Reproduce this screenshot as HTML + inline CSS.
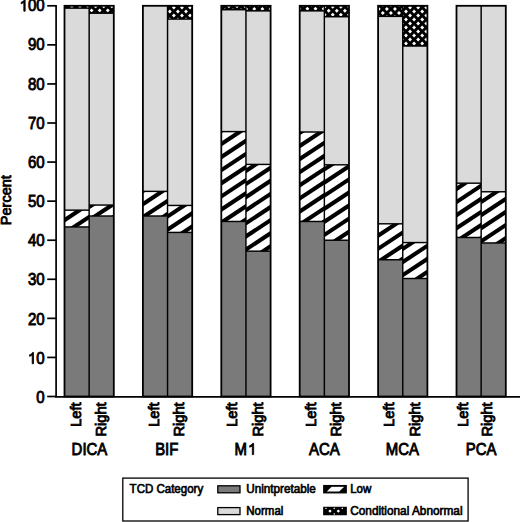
<!DOCTYPE html>
<html><head><meta charset="utf-8"><style>
html,body{margin:0;padding:0;background:#fff;width:520px;height:522px;overflow:hidden;}
svg{display:block;font-family:"Liberation Sans", sans-serif;}
text{font-family:"Liberation Sans", sans-serif;}
</style></head><body>
<svg width="520" height="522" viewBox="0 0 520 522">
<defs><clipPath id="c1"><rect x="64.50" y="210.14" width="24.65" height="16.80"/></clipPath><clipPath id="c2"><rect x="64.50" y="5.80" width="24.65" height="2.34"/></clipPath><clipPath id="c3"><rect x="89.15" y="205.06" width="24.65" height="10.94"/></clipPath><clipPath id="c4"><rect x="89.15" y="5.80" width="24.65" height="7.42"/></clipPath><clipPath id="c5"><rect x="142.90" y="191.38" width="24.65" height="24.61"/></clipPath><clipPath id="c6"><rect x="167.55" y="205.45" width="24.65" height="26.96"/></clipPath><clipPath id="c7"><rect x="167.55" y="5.80" width="24.65" height="13.28"/></clipPath><clipPath id="c8"><rect x="221.30" y="131.61" width="24.65" height="89.86"/></clipPath><clipPath id="c9"><rect x="221.30" y="5.80" width="24.65" height="3.91"/></clipPath><clipPath id="c10"><rect x="245.95" y="164.42" width="24.65" height="86.74"/></clipPath><clipPath id="c11"><rect x="245.95" y="5.80" width="24.65" height="5.08"/></clipPath><clipPath id="c12"><rect x="299.70" y="132.00" width="24.65" height="89.47"/></clipPath><clipPath id="c13"><rect x="299.70" y="5.80" width="24.65" height="5.08"/></clipPath><clipPath id="c14"><rect x="324.35" y="164.81" width="24.65" height="75.41"/></clipPath><clipPath id="c15"><rect x="324.35" y="5.80" width="24.65" height="10.94"/></clipPath><clipPath id="c16"><rect x="378.10" y="223.81" width="24.65" height="35.94"/></clipPath><clipPath id="c17"><rect x="378.10" y="5.80" width="24.65" height="10.55"/></clipPath><clipPath id="c18"><rect x="402.75" y="242.56" width="24.65" height="35.94"/></clipPath><clipPath id="c19"><rect x="402.75" y="5.80" width="24.65" height="40.24"/></clipPath><clipPath id="c20"><rect x="456.50" y="183.18" width="24.65" height="54.31"/></clipPath><clipPath id="c21"><rect x="481.15" y="191.77" width="24.65" height="51.18"/></clipPath></defs>
<rect width="520" height="522" fill="#fff"/>
<rect x="64.50" y="226.94" width="24.65" height="169.56" fill="#7a7a7a"/><g clip-path="url(#c1)"><rect x="64.50" y="210.14" width="24.65" height="16.80" fill="#fff"/><line x1="62.50" y1="208.32" x2="91.15" y2="189.41" stroke="#000" stroke-width="4.09"/><line x1="62.50" y1="221.42" x2="91.15" y2="202.51" stroke="#000" stroke-width="4.09"/><line x1="62.50" y1="234.52" x2="91.15" y2="215.61" stroke="#000" stroke-width="4.09"/><line x1="62.50" y1="247.62" x2="91.15" y2="228.71" stroke="#000" stroke-width="4.09"/></g><rect x="64.50" y="8.14" width="24.65" height="201.99" fill="#dadada"/><g clip-path="url(#c2)"><rect x="64.50" y="5.80" width="24.65" height="2.34" fill="#000"/><path d="M61.75 6.70L63.70 4.75L65.65 6.70L63.70 8.65Z" fill="#fff"/><path d="M69.85 6.70L71.80 4.75L73.75 6.70L71.80 8.65Z" fill="#fff"/><path d="M77.95 6.70L79.90 4.75L81.85 6.70L79.90 8.65Z" fill="#fff"/><path d="M86.05 6.70L88.00 4.75L89.95 6.70L88.00 8.65Z" fill="#fff"/><path d="M65.80 10.70L67.75 8.75L69.70 10.70L67.75 12.65Z" fill="#fff"/><path d="M73.90 10.70L75.85 8.75L77.80 10.70L75.85 12.65Z" fill="#fff"/><path d="M82.00 10.70L83.95 8.75L85.90 10.70L83.95 12.65Z" fill="#fff"/><path d="M90.10 10.70L92.05 8.75L94.00 10.70L92.05 12.65Z" fill="#fff"/></g><line x1="64.50" y1="226.94" x2="89.15" y2="226.94" stroke="#000" stroke-width="1.45"/><line x1="64.50" y1="210.14" x2="89.15" y2="210.14" stroke="#000" stroke-width="1.45"/><line x1="64.50" y1="8.14" x2="89.15" y2="8.14" stroke="#000" stroke-width="1.45"/><rect x="89.15" y="216.00" width="24.65" height="180.50" fill="#7a7a7a"/><g clip-path="url(#c3)"><rect x="89.15" y="205.06" width="24.65" height="10.94" fill="#fff"/><line x1="87.15" y1="208.32" x2="115.80" y2="189.41" stroke="#000" stroke-width="4.09"/><line x1="87.15" y1="221.42" x2="115.80" y2="202.51" stroke="#000" stroke-width="4.09"/><line x1="87.15" y1="234.52" x2="115.80" y2="215.61" stroke="#000" stroke-width="4.09"/></g><rect x="89.15" y="13.22" width="24.65" height="191.83" fill="#dadada"/><g clip-path="url(#c4)"><rect x="89.15" y="5.80" width="24.65" height="7.42" fill="#000"/><path d="M85.60 6.40L87.55 4.45L89.50 6.40L87.55 8.35Z" fill="#fff"/><path d="M93.70 6.40L95.65 4.45L97.60 6.40L95.65 8.35Z" fill="#fff"/><path d="M101.80 6.40L103.75 4.45L105.70 6.40L103.75 8.35Z" fill="#fff"/><path d="M109.90 6.40L111.85 4.45L113.80 6.40L111.85 8.35Z" fill="#fff"/><path d="M89.65 10.40L91.60 8.45L93.55 10.40L91.60 12.35Z" fill="#fff"/><path d="M97.75 10.40L99.70 8.45L101.65 10.40L99.70 12.35Z" fill="#fff"/><path d="M105.85 10.40L107.80 8.45L109.75 10.40L107.80 12.35Z" fill="#fff"/><path d="M113.95 10.40L115.90 8.45L117.85 10.40L115.90 12.35Z" fill="#fff"/><path d="M85.60 14.40L87.55 12.45L89.50 14.40L87.55 16.35Z" fill="#fff"/><path d="M93.70 14.40L95.65 12.45L97.60 14.40L95.65 16.35Z" fill="#fff"/><path d="M101.80 14.40L103.75 12.45L105.70 14.40L103.75 16.35Z" fill="#fff"/><path d="M109.90 14.40L111.85 12.45L113.80 14.40L111.85 16.35Z" fill="#fff"/></g><line x1="89.15" y1="216.00" x2="113.80" y2="216.00" stroke="#000" stroke-width="1.45"/><line x1="89.15" y1="205.06" x2="113.80" y2="205.06" stroke="#000" stroke-width="1.45"/><line x1="89.15" y1="13.22" x2="113.80" y2="13.22" stroke="#000" stroke-width="1.45"/><line x1="89.15" y1="5.80" x2="89.15" y2="396.50" stroke="#000" stroke-width="1.45"/><rect x="64.50" y="5.80" width="49.30" height="390.70" fill="none" stroke="#000" stroke-width="1.8"/><rect x="142.90" y="216.00" width="24.65" height="180.50" fill="#7a7a7a"/><g clip-path="url(#c5)"><rect x="142.90" y="191.38" width="24.65" height="24.61" fill="#fff"/><line x1="140.90" y1="192.32" x2="169.55" y2="173.41" stroke="#000" stroke-width="4.09"/><line x1="140.90" y1="205.42" x2="169.55" y2="186.51" stroke="#000" stroke-width="4.09"/><line x1="140.90" y1="218.52" x2="169.55" y2="199.61" stroke="#000" stroke-width="4.09"/><line x1="140.90" y1="231.62" x2="169.55" y2="212.71" stroke="#000" stroke-width="4.09"/></g><rect x="142.90" y="5.80" width="24.65" height="185.58" fill="#dadada"/><line x1="142.90" y1="216.00" x2="167.55" y2="216.00" stroke="#000" stroke-width="1.45"/><line x1="142.90" y1="191.38" x2="167.55" y2="191.38" stroke="#000" stroke-width="1.45"/><rect x="167.55" y="232.41" width="24.65" height="164.09" fill="#7a7a7a"/><g clip-path="url(#c6)"><rect x="167.55" y="205.45" width="24.65" height="26.96" fill="#fff"/><line x1="165.55" y1="204.72" x2="194.20" y2="185.81" stroke="#000" stroke-width="4.09"/><line x1="165.55" y1="217.82" x2="194.20" y2="198.91" stroke="#000" stroke-width="4.09"/><line x1="165.55" y1="230.92" x2="194.20" y2="212.01" stroke="#000" stroke-width="4.09"/><line x1="165.55" y1="244.02" x2="194.20" y2="225.11" stroke="#000" stroke-width="4.09"/></g><rect x="167.55" y="19.08" width="24.65" height="186.36" fill="#dadada"/><g clip-path="url(#c7)"><rect x="167.55" y="5.80" width="24.65" height="13.28" fill="#000"/><path d="M167.85 3.50L169.80 1.55L171.75 3.50L169.80 5.45Z" fill="#fff"/><path d="M175.95 3.50L177.90 1.55L179.85 3.50L177.90 5.45Z" fill="#fff"/><path d="M184.05 3.50L186.00 1.55L187.95 3.50L186.00 5.45Z" fill="#fff"/><path d="M192.15 3.50L194.10 1.55L196.05 3.50L194.10 5.45Z" fill="#fff"/><path d="M163.80 7.50L165.75 5.55L167.70 7.50L165.75 9.45Z" fill="#fff"/><path d="M171.90 7.50L173.85 5.55L175.80 7.50L173.85 9.45Z" fill="#fff"/><path d="M180.00 7.50L181.95 5.55L183.90 7.50L181.95 9.45Z" fill="#fff"/><path d="M188.10 7.50L190.05 5.55L192.00 7.50L190.05 9.45Z" fill="#fff"/><path d="M167.85 11.50L169.80 9.55L171.75 11.50L169.80 13.45Z" fill="#fff"/><path d="M175.95 11.50L177.90 9.55L179.85 11.50L177.90 13.45Z" fill="#fff"/><path d="M184.05 11.50L186.00 9.55L187.95 11.50L186.00 13.45Z" fill="#fff"/><path d="M192.15 11.50L194.10 9.55L196.05 11.50L194.10 13.45Z" fill="#fff"/><path d="M163.80 15.50L165.75 13.55L167.70 15.50L165.75 17.45Z" fill="#fff"/><path d="M171.90 15.50L173.85 13.55L175.80 15.50L173.85 17.45Z" fill="#fff"/><path d="M180.00 15.50L181.95 13.55L183.90 15.50L181.95 17.45Z" fill="#fff"/><path d="M188.10 15.50L190.05 13.55L192.00 15.50L190.05 17.45Z" fill="#fff"/><path d="M167.85 19.50L169.80 17.55L171.75 19.50L169.80 21.45Z" fill="#fff"/><path d="M175.95 19.50L177.90 17.55L179.85 19.50L177.90 21.45Z" fill="#fff"/><path d="M184.05 19.50L186.00 17.55L187.95 19.50L186.00 21.45Z" fill="#fff"/><path d="M192.15 19.50L194.10 17.55L196.05 19.50L194.10 21.45Z" fill="#fff"/></g><line x1="167.55" y1="232.41" x2="192.20" y2="232.41" stroke="#000" stroke-width="1.45"/><line x1="167.55" y1="205.45" x2="192.20" y2="205.45" stroke="#000" stroke-width="1.45"/><line x1="167.55" y1="19.08" x2="192.20" y2="19.08" stroke="#000" stroke-width="1.45"/><line x1="167.55" y1="5.80" x2="167.55" y2="396.50" stroke="#000" stroke-width="1.45"/><rect x="142.90" y="5.80" width="49.30" height="390.70" fill="none" stroke="#000" stroke-width="1.8"/><rect x="221.30" y="221.47" width="24.65" height="175.03" fill="#7a7a7a"/><g clip-path="url(#c8)"><rect x="221.30" y="131.61" width="24.65" height="89.86" fill="#fff"/><line x1="219.30" y1="132.22" x2="247.95" y2="113.31" stroke="#000" stroke-width="4.09"/><line x1="219.30" y1="145.32" x2="247.95" y2="126.41" stroke="#000" stroke-width="4.09"/><line x1="219.30" y1="158.42" x2="247.95" y2="139.51" stroke="#000" stroke-width="4.09"/><line x1="219.30" y1="171.52" x2="247.95" y2="152.61" stroke="#000" stroke-width="4.09"/><line x1="219.30" y1="184.62" x2="247.95" y2="165.71" stroke="#000" stroke-width="4.09"/><line x1="219.30" y1="197.72" x2="247.95" y2="178.81" stroke="#000" stroke-width="4.09"/><line x1="219.30" y1="210.82" x2="247.95" y2="191.91" stroke="#000" stroke-width="4.09"/><line x1="219.30" y1="223.92" x2="247.95" y2="205.01" stroke="#000" stroke-width="4.09"/><line x1="219.30" y1="237.02" x2="247.95" y2="218.11" stroke="#000" stroke-width="4.09"/></g><rect x="221.30" y="9.71" width="24.65" height="121.90" fill="#dadada"/><g clip-path="url(#c9)"><rect x="221.30" y="5.80" width="24.65" height="3.91" fill="#000"/><path d="M218.85 6.30L220.80 4.35L222.75 6.30L220.80 8.25Z" fill="#fff"/><path d="M226.95 6.30L228.90 4.35L230.85 6.30L228.90 8.25Z" fill="#fff"/><path d="M235.05 6.30L237.00 4.35L238.95 6.30L237.00 8.25Z" fill="#fff"/><path d="M243.15 6.30L245.10 4.35L247.05 6.30L245.10 8.25Z" fill="#fff"/><path d="M222.90 10.30L224.85 8.35L226.80 10.30L224.85 12.25Z" fill="#fff"/><path d="M231.00 10.30L232.95 8.35L234.90 10.30L232.95 12.25Z" fill="#fff"/><path d="M239.10 10.30L241.05 8.35L243.00 10.30L241.05 12.25Z" fill="#fff"/></g><line x1="221.30" y1="221.47" x2="245.95" y2="221.47" stroke="#000" stroke-width="1.45"/><line x1="221.30" y1="131.61" x2="245.95" y2="131.61" stroke="#000" stroke-width="1.45"/><line x1="221.30" y1="9.71" x2="245.95" y2="9.71" stroke="#000" stroke-width="1.45"/><rect x="245.95" y="251.16" width="24.65" height="145.34" fill="#7a7a7a"/><g clip-path="url(#c10)"><rect x="245.95" y="164.42" width="24.65" height="86.74" fill="#fff"/><line x1="243.95" y1="172.22" x2="272.60" y2="153.31" stroke="#000" stroke-width="4.09"/><line x1="243.95" y1="185.32" x2="272.60" y2="166.41" stroke="#000" stroke-width="4.09"/><line x1="243.95" y1="198.42" x2="272.60" y2="179.51" stroke="#000" stroke-width="4.09"/><line x1="243.95" y1="211.52" x2="272.60" y2="192.61" stroke="#000" stroke-width="4.09"/><line x1="243.95" y1="224.62" x2="272.60" y2="205.71" stroke="#000" stroke-width="4.09"/><line x1="243.95" y1="237.72" x2="272.60" y2="218.81" stroke="#000" stroke-width="4.09"/><line x1="243.95" y1="250.82" x2="272.60" y2="231.91" stroke="#000" stroke-width="4.09"/><line x1="243.95" y1="263.92" x2="272.60" y2="245.01" stroke="#000" stroke-width="4.09"/></g><rect x="245.95" y="10.88" width="24.65" height="153.55" fill="#dadada"/><g clip-path="url(#c11)"><rect x="245.95" y="5.80" width="24.65" height="5.08" fill="#000"/><path d="M248.30 4.90L250.25 2.95L252.20 4.90L250.25 6.85Z" fill="#fff"/><path d="M256.40 4.90L258.35 2.95L260.30 4.90L258.35 6.85Z" fill="#fff"/><path d="M264.50 4.90L266.45 2.95L268.40 4.90L266.45 6.85Z" fill="#fff"/><path d="M244.25 8.90L246.20 6.95L248.15 8.90L246.20 10.85Z" fill="#fff"/><path d="M252.35 8.90L254.30 6.95L256.25 8.90L254.30 10.85Z" fill="#fff"/><path d="M260.45 8.90L262.40 6.95L264.35 8.90L262.40 10.85Z" fill="#fff"/><path d="M268.55 8.90L270.50 6.95L272.45 8.90L270.50 10.85Z" fill="#fff"/><path d="M248.30 12.90L250.25 10.95L252.20 12.90L250.25 14.85Z" fill="#fff"/><path d="M256.40 12.90L258.35 10.95L260.30 12.90L258.35 14.85Z" fill="#fff"/><path d="M264.50 12.90L266.45 10.95L268.40 12.90L266.45 14.85Z" fill="#fff"/></g><line x1="245.95" y1="251.16" x2="270.60" y2="251.16" stroke="#000" stroke-width="1.45"/><line x1="245.95" y1="164.42" x2="270.60" y2="164.42" stroke="#000" stroke-width="1.45"/><line x1="245.95" y1="10.88" x2="270.60" y2="10.88" stroke="#000" stroke-width="1.45"/><line x1="245.95" y1="5.80" x2="245.95" y2="396.50" stroke="#000" stroke-width="1.45"/><rect x="221.30" y="5.80" width="49.30" height="390.70" fill="none" stroke="#000" stroke-width="1.8"/><rect x="299.70" y="221.47" width="24.65" height="175.03" fill="#7a7a7a"/><g clip-path="url(#c12)"><rect x="299.70" y="132.00" width="24.65" height="89.47" fill="#fff"/><line x1="297.70" y1="134.22" x2="326.35" y2="115.31" stroke="#000" stroke-width="4.09"/><line x1="297.70" y1="147.32" x2="326.35" y2="128.41" stroke="#000" stroke-width="4.09"/><line x1="297.70" y1="160.42" x2="326.35" y2="141.51" stroke="#000" stroke-width="4.09"/><line x1="297.70" y1="173.52" x2="326.35" y2="154.61" stroke="#000" stroke-width="4.09"/><line x1="297.70" y1="186.62" x2="326.35" y2="167.71" stroke="#000" stroke-width="4.09"/><line x1="297.70" y1="199.72" x2="326.35" y2="180.81" stroke="#000" stroke-width="4.09"/><line x1="297.70" y1="212.82" x2="326.35" y2="193.91" stroke="#000" stroke-width="4.09"/><line x1="297.70" y1="225.92" x2="326.35" y2="207.01" stroke="#000" stroke-width="4.09"/><line x1="297.70" y1="239.02" x2="326.35" y2="220.11" stroke="#000" stroke-width="4.09"/></g><rect x="299.70" y="10.88" width="24.65" height="121.12" fill="#dadada"/><g clip-path="url(#c13)"><rect x="299.70" y="5.80" width="24.65" height="5.08" fill="#000"/><path d="M301.40 4.75L303.35 2.80L305.30 4.75L303.35 6.70Z" fill="#fff"/><path d="M309.50 4.75L311.45 2.80L313.40 4.75L311.45 6.70Z" fill="#fff"/><path d="M317.60 4.75L319.55 2.80L321.50 4.75L319.55 6.70Z" fill="#fff"/><path d="M297.35 8.75L299.30 6.80L301.25 8.75L299.30 10.70Z" fill="#fff"/><path d="M305.45 8.75L307.40 6.80L309.35 8.75L307.40 10.70Z" fill="#fff"/><path d="M313.55 8.75L315.50 6.80L317.45 8.75L315.50 10.70Z" fill="#fff"/><path d="M321.65 8.75L323.60 6.80L325.55 8.75L323.60 10.70Z" fill="#fff"/><path d="M301.40 12.75L303.35 10.80L305.30 12.75L303.35 14.70Z" fill="#fff"/><path d="M309.50 12.75L311.45 10.80L313.40 12.75L311.45 14.70Z" fill="#fff"/><path d="M317.60 12.75L319.55 10.80L321.50 12.75L319.55 14.70Z" fill="#fff"/></g><line x1="299.70" y1="221.47" x2="324.35" y2="221.47" stroke="#000" stroke-width="1.45"/><line x1="299.70" y1="132.00" x2="324.35" y2="132.00" stroke="#000" stroke-width="1.45"/><line x1="299.70" y1="10.88" x2="324.35" y2="10.88" stroke="#000" stroke-width="1.45"/><rect x="324.35" y="240.22" width="24.65" height="156.28" fill="#7a7a7a"/><g clip-path="url(#c14)"><rect x="324.35" y="164.81" width="24.65" height="75.41" fill="#fff"/><line x1="322.35" y1="170.72" x2="351.00" y2="151.81" stroke="#000" stroke-width="4.09"/><line x1="322.35" y1="183.82" x2="351.00" y2="164.91" stroke="#000" stroke-width="4.09"/><line x1="322.35" y1="196.92" x2="351.00" y2="178.01" stroke="#000" stroke-width="4.09"/><line x1="322.35" y1="210.02" x2="351.00" y2="191.11" stroke="#000" stroke-width="4.09"/><line x1="322.35" y1="223.12" x2="351.00" y2="204.21" stroke="#000" stroke-width="4.09"/><line x1="322.35" y1="236.22" x2="351.00" y2="217.31" stroke="#000" stroke-width="4.09"/><line x1="322.35" y1="249.32" x2="351.00" y2="230.41" stroke="#000" stroke-width="4.09"/><line x1="322.35" y1="262.42" x2="351.00" y2="243.51" stroke="#000" stroke-width="4.09"/></g><rect x="324.35" y="16.74" width="24.65" height="148.08" fill="#dadada"/><g clip-path="url(#c15)"><rect x="324.35" y="5.80" width="24.65" height="10.94" fill="#000"/><path d="M322.70 6.80L324.65 4.85L326.60 6.80L324.65 8.75Z" fill="#fff"/><path d="M330.80 6.80L332.75 4.85L334.70 6.80L332.75 8.75Z" fill="#fff"/><path d="M338.90 6.80L340.85 4.85L342.80 6.80L340.85 8.75Z" fill="#fff"/><path d="M347.00 6.80L348.95 4.85L350.90 6.80L348.95 8.75Z" fill="#fff"/><path d="M326.75 10.80L328.70 8.85L330.65 10.80L328.70 12.75Z" fill="#fff"/><path d="M334.85 10.80L336.80 8.85L338.75 10.80L336.80 12.75Z" fill="#fff"/><path d="M342.95 10.80L344.90 8.85L346.85 10.80L344.90 12.75Z" fill="#fff"/><path d="M322.70 14.80L324.65 12.85L326.60 14.80L324.65 16.75Z" fill="#fff"/><path d="M330.80 14.80L332.75 12.85L334.70 14.80L332.75 16.75Z" fill="#fff"/><path d="M338.90 14.80L340.85 12.85L342.80 14.80L340.85 16.75Z" fill="#fff"/><path d="M347.00 14.80L348.95 12.85L350.90 14.80L348.95 16.75Z" fill="#fff"/><path d="M326.75 18.80L328.70 16.85L330.65 18.80L328.70 20.75Z" fill="#fff"/><path d="M334.85 18.80L336.80 16.85L338.75 18.80L336.80 20.75Z" fill="#fff"/><path d="M342.95 18.80L344.90 16.85L346.85 18.80L344.90 20.75Z" fill="#fff"/></g><line x1="324.35" y1="240.22" x2="349.00" y2="240.22" stroke="#000" stroke-width="1.45"/><line x1="324.35" y1="164.81" x2="349.00" y2="164.81" stroke="#000" stroke-width="1.45"/><line x1="324.35" y1="16.74" x2="349.00" y2="16.74" stroke="#000" stroke-width="1.45"/><line x1="324.35" y1="5.80" x2="324.35" y2="396.50" stroke="#000" stroke-width="1.45"/><rect x="299.70" y="5.80" width="49.30" height="390.70" fill="none" stroke="#000" stroke-width="1.8"/><rect x="378.10" y="259.75" width="24.65" height="136.75" fill="#7a7a7a"/><g clip-path="url(#c16)"><rect x="378.10" y="223.81" width="24.65" height="35.94" fill="#fff"/><line x1="376.10" y1="223.92" x2="404.75" y2="205.01" stroke="#000" stroke-width="4.09"/><line x1="376.10" y1="237.02" x2="404.75" y2="218.11" stroke="#000" stroke-width="4.09"/><line x1="376.10" y1="250.12" x2="404.75" y2="231.21" stroke="#000" stroke-width="4.09"/><line x1="376.10" y1="263.22" x2="404.75" y2="244.31" stroke="#000" stroke-width="4.09"/><line x1="376.10" y1="276.32" x2="404.75" y2="257.41" stroke="#000" stroke-width="4.09"/></g><rect x="378.10" y="16.35" width="24.65" height="207.46" fill="#dadada"/><g clip-path="url(#c17)"><rect x="378.10" y="5.80" width="24.65" height="10.55" fill="#000"/><path d="M380.85 5.00L382.80 3.05L384.75 5.00L382.80 6.95Z" fill="#fff"/><path d="M388.95 5.00L390.90 3.05L392.85 5.00L390.90 6.95Z" fill="#fff"/><path d="M397.05 5.00L399.00 3.05L400.95 5.00L399.00 6.95Z" fill="#fff"/><path d="M376.80 9.00L378.75 7.05L380.70 9.00L378.75 10.95Z" fill="#fff"/><path d="M384.90 9.00L386.85 7.05L388.80 9.00L386.85 10.95Z" fill="#fff"/><path d="M393.00 9.00L394.95 7.05L396.90 9.00L394.95 10.95Z" fill="#fff"/><path d="M401.10 9.00L403.05 7.05L405.00 9.00L403.05 10.95Z" fill="#fff"/><path d="M380.85 13.00L382.80 11.05L384.75 13.00L382.80 14.95Z" fill="#fff"/><path d="M388.95 13.00L390.90 11.05L392.85 13.00L390.90 14.95Z" fill="#fff"/><path d="M397.05 13.00L399.00 11.05L400.95 13.00L399.00 14.95Z" fill="#fff"/><path d="M376.80 17.00L378.75 15.05L380.70 17.00L378.75 18.95Z" fill="#fff"/><path d="M384.90 17.00L386.85 15.05L388.80 17.00L386.85 18.95Z" fill="#fff"/><path d="M393.00 17.00L394.95 15.05L396.90 17.00L394.95 18.95Z" fill="#fff"/><path d="M401.10 17.00L403.05 15.05L405.00 17.00L403.05 18.95Z" fill="#fff"/></g><line x1="378.10" y1="259.75" x2="402.75" y2="259.75" stroke="#000" stroke-width="1.45"/><line x1="378.10" y1="223.81" x2="402.75" y2="223.81" stroke="#000" stroke-width="1.45"/><line x1="378.10" y1="16.35" x2="402.75" y2="16.35" stroke="#000" stroke-width="1.45"/><rect x="402.75" y="278.51" width="24.65" height="117.99" fill="#7a7a7a"/><g clip-path="url(#c18)"><rect x="402.75" y="242.56" width="24.65" height="35.94" fill="#fff"/><line x1="400.75" y1="250.22" x2="429.40" y2="231.31" stroke="#000" stroke-width="4.09"/><line x1="400.75" y1="263.32" x2="429.40" y2="244.41" stroke="#000" stroke-width="4.09"/><line x1="400.75" y1="276.42" x2="429.40" y2="257.51" stroke="#000" stroke-width="4.09"/><line x1="400.75" y1="289.52" x2="429.40" y2="270.61" stroke="#000" stroke-width="4.09"/></g><rect x="402.75" y="46.04" width="24.65" height="196.52" fill="#dadada"/><g clip-path="url(#c19)"><rect x="402.75" y="5.80" width="24.65" height="40.24" fill="#000"/><path d="M404.05 3.50L406.00 1.55L407.95 3.50L406.00 5.45Z" fill="#fff"/><path d="M412.15 3.50L414.10 1.55L416.05 3.50L414.10 5.45Z" fill="#fff"/><path d="M420.25 3.50L422.20 1.55L424.15 3.50L422.20 5.45Z" fill="#fff"/><path d="M428.35 3.50L430.30 1.55L432.25 3.50L430.30 5.45Z" fill="#fff"/><path d="M400.00 7.50L401.95 5.55L403.90 7.50L401.95 9.45Z" fill="#fff"/><path d="M408.10 7.50L410.05 5.55L412.00 7.50L410.05 9.45Z" fill="#fff"/><path d="M416.20 7.50L418.15 5.55L420.10 7.50L418.15 9.45Z" fill="#fff"/><path d="M424.30 7.50L426.25 5.55L428.20 7.50L426.25 9.45Z" fill="#fff"/><path d="M404.05 11.50L406.00 9.55L407.95 11.50L406.00 13.45Z" fill="#fff"/><path d="M412.15 11.50L414.10 9.55L416.05 11.50L414.10 13.45Z" fill="#fff"/><path d="M420.25 11.50L422.20 9.55L424.15 11.50L422.20 13.45Z" fill="#fff"/><path d="M428.35 11.50L430.30 9.55L432.25 11.50L430.30 13.45Z" fill="#fff"/><path d="M400.00 15.50L401.95 13.55L403.90 15.50L401.95 17.45Z" fill="#fff"/><path d="M408.10 15.50L410.05 13.55L412.00 15.50L410.05 17.45Z" fill="#fff"/><path d="M416.20 15.50L418.15 13.55L420.10 15.50L418.15 17.45Z" fill="#fff"/><path d="M424.30 15.50L426.25 13.55L428.20 15.50L426.25 17.45Z" fill="#fff"/><path d="M404.05 19.50L406.00 17.55L407.95 19.50L406.00 21.45Z" fill="#fff"/><path d="M412.15 19.50L414.10 17.55L416.05 19.50L414.10 21.45Z" fill="#fff"/><path d="M420.25 19.50L422.20 17.55L424.15 19.50L422.20 21.45Z" fill="#fff"/><path d="M428.35 19.50L430.30 17.55L432.25 19.50L430.30 21.45Z" fill="#fff"/><path d="M400.00 23.50L401.95 21.55L403.90 23.50L401.95 25.45Z" fill="#fff"/><path d="M408.10 23.50L410.05 21.55L412.00 23.50L410.05 25.45Z" fill="#fff"/><path d="M416.20 23.50L418.15 21.55L420.10 23.50L418.15 25.45Z" fill="#fff"/><path d="M424.30 23.50L426.25 21.55L428.20 23.50L426.25 25.45Z" fill="#fff"/><path d="M404.05 27.50L406.00 25.55L407.95 27.50L406.00 29.45Z" fill="#fff"/><path d="M412.15 27.50L414.10 25.55L416.05 27.50L414.10 29.45Z" fill="#fff"/><path d="M420.25 27.50L422.20 25.55L424.15 27.50L422.20 29.45Z" fill="#fff"/><path d="M428.35 27.50L430.30 25.55L432.25 27.50L430.30 29.45Z" fill="#fff"/><path d="M400.00 31.50L401.95 29.55L403.90 31.50L401.95 33.45Z" fill="#fff"/><path d="M408.10 31.50L410.05 29.55L412.00 31.50L410.05 33.45Z" fill="#fff"/><path d="M416.20 31.50L418.15 29.55L420.10 31.50L418.15 33.45Z" fill="#fff"/><path d="M424.30 31.50L426.25 29.55L428.20 31.50L426.25 33.45Z" fill="#fff"/><path d="M404.05 35.50L406.00 33.55L407.95 35.50L406.00 37.45Z" fill="#fff"/><path d="M412.15 35.50L414.10 33.55L416.05 35.50L414.10 37.45Z" fill="#fff"/><path d="M420.25 35.50L422.20 33.55L424.15 35.50L422.20 37.45Z" fill="#fff"/><path d="M428.35 35.50L430.30 33.55L432.25 35.50L430.30 37.45Z" fill="#fff"/><path d="M400.00 39.50L401.95 37.55L403.90 39.50L401.95 41.45Z" fill="#fff"/><path d="M408.10 39.50L410.05 37.55L412.00 39.50L410.05 41.45Z" fill="#fff"/><path d="M416.20 39.50L418.15 37.55L420.10 39.50L418.15 41.45Z" fill="#fff"/><path d="M424.30 39.50L426.25 37.55L428.20 39.50L426.25 41.45Z" fill="#fff"/><path d="M404.05 43.50L406.00 41.55L407.95 43.50L406.00 45.45Z" fill="#fff"/><path d="M412.15 43.50L414.10 41.55L416.05 43.50L414.10 45.45Z" fill="#fff"/><path d="M420.25 43.50L422.20 41.55L424.15 43.50L422.20 45.45Z" fill="#fff"/><path d="M428.35 43.50L430.30 41.55L432.25 43.50L430.30 45.45Z" fill="#fff"/><path d="M400.00 47.50L401.95 45.55L403.90 47.50L401.95 49.45Z" fill="#fff"/><path d="M408.10 47.50L410.05 45.55L412.00 47.50L410.05 49.45Z" fill="#fff"/><path d="M416.20 47.50L418.15 45.55L420.10 47.50L418.15 49.45Z" fill="#fff"/><path d="M424.30 47.50L426.25 45.55L428.20 47.50L426.25 49.45Z" fill="#fff"/></g><line x1="402.75" y1="278.51" x2="427.40" y2="278.51" stroke="#000" stroke-width="1.45"/><line x1="402.75" y1="242.56" x2="427.40" y2="242.56" stroke="#000" stroke-width="1.45"/><line x1="402.75" y1="46.04" x2="427.40" y2="46.04" stroke="#000" stroke-width="1.45"/><line x1="402.75" y1="5.80" x2="402.75" y2="396.50" stroke="#000" stroke-width="1.45"/><rect x="378.10" y="5.80" width="49.30" height="390.70" fill="none" stroke="#000" stroke-width="1.8"/><rect x="456.50" y="237.49" width="24.65" height="159.01" fill="#7a7a7a"/><g clip-path="url(#c20)"><rect x="456.50" y="183.18" width="24.65" height="54.31" fill="#fff"/><line x1="454.50" y1="190.22" x2="483.15" y2="171.31" stroke="#000" stroke-width="4.09"/><line x1="454.50" y1="203.32" x2="483.15" y2="184.41" stroke="#000" stroke-width="4.09"/><line x1="454.50" y1="216.42" x2="483.15" y2="197.51" stroke="#000" stroke-width="4.09"/><line x1="454.50" y1="229.52" x2="483.15" y2="210.61" stroke="#000" stroke-width="4.09"/><line x1="454.50" y1="242.62" x2="483.15" y2="223.71" stroke="#000" stroke-width="4.09"/><line x1="454.50" y1="255.72" x2="483.15" y2="236.81" stroke="#000" stroke-width="4.09"/></g><rect x="456.50" y="5.80" width="24.65" height="177.38" fill="#dadada"/><line x1="456.50" y1="237.49" x2="481.15" y2="237.49" stroke="#000" stroke-width="1.45"/><line x1="456.50" y1="183.18" x2="481.15" y2="183.18" stroke="#000" stroke-width="1.45"/><rect x="481.15" y="242.95" width="24.65" height="153.55" fill="#7a7a7a"/><g clip-path="url(#c21)"><rect x="481.15" y="191.77" width="24.65" height="51.18" fill="#fff"/><line x1="479.15" y1="190.22" x2="507.80" y2="171.31" stroke="#000" stroke-width="4.09"/><line x1="479.15" y1="203.32" x2="507.80" y2="184.41" stroke="#000" stroke-width="4.09"/><line x1="479.15" y1="216.42" x2="507.80" y2="197.51" stroke="#000" stroke-width="4.09"/><line x1="479.15" y1="229.52" x2="507.80" y2="210.61" stroke="#000" stroke-width="4.09"/><line x1="479.15" y1="242.62" x2="507.80" y2="223.71" stroke="#000" stroke-width="4.09"/><line x1="479.15" y1="255.72" x2="507.80" y2="236.81" stroke="#000" stroke-width="4.09"/></g><rect x="481.15" y="5.80" width="24.65" height="185.97" fill="#dadada"/><line x1="481.15" y1="242.95" x2="505.80" y2="242.95" stroke="#000" stroke-width="1.45"/><line x1="481.15" y1="191.77" x2="505.80" y2="191.77" stroke="#000" stroke-width="1.45"/><line x1="481.15" y1="5.80" x2="481.15" y2="396.50" stroke="#000" stroke-width="1.45"/><rect x="456.50" y="5.80" width="49.30" height="390.70" fill="none" stroke="#000" stroke-width="1.8"/>
<line x1="47.2" y1="396.50" x2="56.1" y2="396.50" stroke="#000" stroke-width="1.7"/><text transform="translate(44.60,402.90) scale(0.940,1)" text-anchor="end" font-size="16" font-weight="normal" stroke="#000" stroke-width="0.85">0</text><line x1="47.2" y1="357.43" x2="56.1" y2="357.43" stroke="#000" stroke-width="1.7"/><text transform="translate(44.60,363.73) scale(0.940,1)" text-anchor="end" font-size="16" font-weight="normal" stroke="#000" stroke-width="0.85">0</text><path transform="translate(27.88,363.73) scale(0.01504,-0.01600)" d="M376,0 L376,703 L306,703 C280,640 220,590 110,560 L110,465 C180,480 250,515 287,545 L287,0 Z" fill="#000" stroke="#000" stroke-width="53.1"/><line x1="47.2" y1="318.36" x2="56.1" y2="318.36" stroke="#000" stroke-width="1.7"/><text transform="translate(44.60,324.56) scale(0.940,1)" text-anchor="end" font-size="16" font-weight="normal" stroke="#000" stroke-width="0.85">20</text><line x1="47.2" y1="279.29" x2="56.1" y2="279.29" stroke="#000" stroke-width="1.7"/><text transform="translate(44.60,285.39) scale(0.940,1)" text-anchor="end" font-size="16" font-weight="normal" stroke="#000" stroke-width="0.85">30</text><line x1="47.2" y1="240.22" x2="56.1" y2="240.22" stroke="#000" stroke-width="1.7"/><text transform="translate(44.60,246.22) scale(0.940,1)" text-anchor="end" font-size="16" font-weight="normal" stroke="#000" stroke-width="0.85">40</text><line x1="47.2" y1="201.15" x2="56.1" y2="201.15" stroke="#000" stroke-width="1.7"/><text transform="translate(44.60,207.05) scale(0.940,1)" text-anchor="end" font-size="16" font-weight="normal" stroke="#000" stroke-width="0.85">50</text><line x1="47.2" y1="162.08" x2="56.1" y2="162.08" stroke="#000" stroke-width="1.7"/><text transform="translate(44.60,167.88) scale(0.940,1)" text-anchor="end" font-size="16" font-weight="normal" stroke="#000" stroke-width="0.85">60</text><line x1="47.2" y1="123.01" x2="56.1" y2="123.01" stroke="#000" stroke-width="1.7"/><text transform="translate(44.60,128.71) scale(0.940,1)" text-anchor="end" font-size="16" font-weight="normal" stroke="#000" stroke-width="0.85">70</text><line x1="47.2" y1="83.94" x2="56.1" y2="83.94" stroke="#000" stroke-width="1.7"/><text transform="translate(44.60,89.54) scale(0.940,1)" text-anchor="end" font-size="16" font-weight="normal" stroke="#000" stroke-width="0.85">80</text><line x1="47.2" y1="44.87" x2="56.1" y2="44.87" stroke="#000" stroke-width="1.7"/><text transform="translate(44.60,50.37) scale(0.940,1)" text-anchor="end" font-size="16" font-weight="normal" stroke="#000" stroke-width="0.85">90</text><line x1="47.2" y1="5.80" x2="56.1" y2="5.80" stroke="#000" stroke-width="1.7"/><text transform="translate(44.60,11.20) scale(0.940,1)" text-anchor="end" font-size="16" font-weight="normal" stroke="#000" stroke-width="0.85">00</text><path transform="translate(19.51,11.20) scale(0.01504,-0.01600)" d="M376,0 L376,703 L306,703 C280,640 220,590 110,560 L110,465 C180,480 250,515 287,545 L287,0 Z" fill="#000" stroke="#000" stroke-width="53.1"/><line x1="56.1" y1="4.95" x2="56.1" y2="397.35" stroke="#000" stroke-width="1.7"/><line x1="55.2" y1="396.80" x2="520" y2="396.80" stroke="#000" stroke-width="1.7"/><text transform="translate(10.60,200.20) rotate(-90) scale(1.040,1)" text-anchor="middle" font-size="14" font-weight="normal" stroke="#000" stroke-width="0.8">Percent</text>
<text transform="translate(80.60,402.30) rotate(-90) scale(0.980,1)" text-anchor="end" font-size="15" font-weight="normal" stroke="#000" stroke-width="0.85">Left</text><text transform="translate(106.05,402.30) rotate(-90) scale(0.980,1)" text-anchor="end" font-size="15" font-weight="normal" stroke="#000" stroke-width="0.85">Right</text><text transform="translate(89.45,454.60) scale(0.935,1)" text-anchor="middle" font-size="16" font-weight="normal" stroke="#000" stroke-width="0.85">DICA</text><text transform="translate(158.90,402.30) rotate(-90) scale(0.980,1)" text-anchor="end" font-size="15" font-weight="normal" stroke="#000" stroke-width="0.85">Left</text><text transform="translate(184.35,402.30) rotate(-90) scale(0.980,1)" text-anchor="end" font-size="15" font-weight="normal" stroke="#000" stroke-width="0.85">Right</text><text transform="translate(166.75,454.60) scale(0.935,1)" text-anchor="middle" font-size="16" font-weight="normal" stroke="#000" stroke-width="0.85">BIF</text><text transform="translate(237.30,402.30) rotate(-90) scale(0.980,1)" text-anchor="end" font-size="15" font-weight="normal" stroke="#000" stroke-width="0.85">Left</text><text transform="translate(262.75,402.30) rotate(-90) scale(0.980,1)" text-anchor="end" font-size="15" font-weight="normal" stroke="#000" stroke-width="0.85">Right</text><text transform="translate(234.56,454.60) scale(0.935,1)" text-anchor="start" font-size="16" font-weight="normal" stroke="#000" stroke-width="0.85">M</text><path transform="translate(248.02,454.60) scale(0.01496,-0.01600)" d="M376,0 L376,703 L306,703 C280,640 220,590 110,560 L110,465 C180,480 250,515 287,545 L287,0 Z" fill="#000" stroke="#000" stroke-width="53.1"/><text transform="translate(316.00,402.30) rotate(-90) scale(0.980,1)" text-anchor="end" font-size="15" font-weight="normal" stroke="#000" stroke-width="0.85">Left</text><text transform="translate(341.45,402.30) rotate(-90) scale(0.980,1)" text-anchor="end" font-size="15" font-weight="normal" stroke="#000" stroke-width="0.85">Right</text><text transform="translate(324.35,454.60) scale(0.935,1)" text-anchor="middle" font-size="16" font-weight="normal" stroke="#000" stroke-width="0.85">ACA</text><text transform="translate(394.10,402.30) rotate(-90) scale(0.980,1)" text-anchor="end" font-size="15" font-weight="normal" stroke="#000" stroke-width="0.85">Left</text><text transform="translate(419.55,402.30) rotate(-90) scale(0.980,1)" text-anchor="end" font-size="15" font-weight="normal" stroke="#000" stroke-width="0.85">Right</text><text transform="translate(402.35,454.60) scale(0.935,1)" text-anchor="middle" font-size="16" font-weight="normal" stroke="#000" stroke-width="0.85">MCA</text><text transform="translate(467.60,402.30) rotate(-90) scale(0.980,1)" text-anchor="end" font-size="15" font-weight="normal" stroke="#000" stroke-width="0.85">Left</text><text transform="translate(492.05,402.30) rotate(-90) scale(0.980,1)" text-anchor="end" font-size="15" font-weight="normal" stroke="#000" stroke-width="0.85">Right</text><text transform="translate(481.15,454.60) scale(0.935,1)" text-anchor="middle" font-size="16" font-weight="normal" stroke="#000" stroke-width="0.85">PCA</text>
<rect x="122.8" y="478.1" width="345.3" height="42.9" fill="none" stroke="#000" stroke-width="1.3"/><text transform="translate(129.60,492.50) scale(0.960,1)" text-anchor="start" font-size="12" font-weight="normal" stroke="#000" stroke-width="0.65">TCD Category</text><rect x="217.8" y="485.8" width="22.2" height="7.0" fill="#7a7a7a" stroke="#000" stroke-width="1.3"/><text transform="translate(246.30,492.50) scale(0.975,1)" text-anchor="start" font-size="12" font-weight="normal" stroke="#000" stroke-width="0.65">Unintpretable</text><rect x="217.8" y="507.6" width="22.2" height="7.0" fill="#dadada" stroke="#000" stroke-width="1.3"/><text transform="translate(246.30,514.60) scale(0.960,1)" text-anchor="start" font-size="12" font-weight="normal" stroke="#000" stroke-width="0.65">Normal</text><rect x="323.8" y="485.6" width="22.4" height="7.2" fill="#000"/><polygon points="326.8,491.6 331.6,486.8 344.2,486.8 339.2,491.6" fill="#fff"/><rect x="323.8" y="485.6" width="22.4" height="7.2" fill="none" stroke="#000" stroke-width="1.3"/><text transform="translate(350.20,492.50) scale(0.960,1)" text-anchor="start" font-size="12" font-weight="normal" stroke="#000" stroke-width="0.65">Low</text><rect x="323.8" y="507.4" width="22.4" height="7.2" fill="#000" stroke="#000" stroke-width="1.3"/><path d="M328.30 511.10L330.00 509.40L331.70 511.10L330.00 512.80Z" fill="#fff"/><path d="M336.60 511.10L338.30 509.40L340.00 511.10L338.30 512.80Z" fill="#fff"/><path d="M325.10 508.30L326.00 507.40L326.90 508.30L326.00 509.20Z" fill="#fff"/><path d="M333.30 508.30L334.20 507.40L335.10 508.30L334.20 509.20Z" fill="#fff"/><path d="M341.40 508.30L342.30 507.40L343.20 508.30L342.30 509.20Z" fill="#fff"/><path d="M333.30 513.90L334.20 513.00L335.10 513.90L334.20 514.80Z" fill="#fff"/><text transform="translate(350.20,514.60) scale(0.985,1)" text-anchor="start" font-size="12" font-weight="normal" stroke="#000" stroke-width="0.65">Conditional Abnormal</text>
</svg>
</body></html>
